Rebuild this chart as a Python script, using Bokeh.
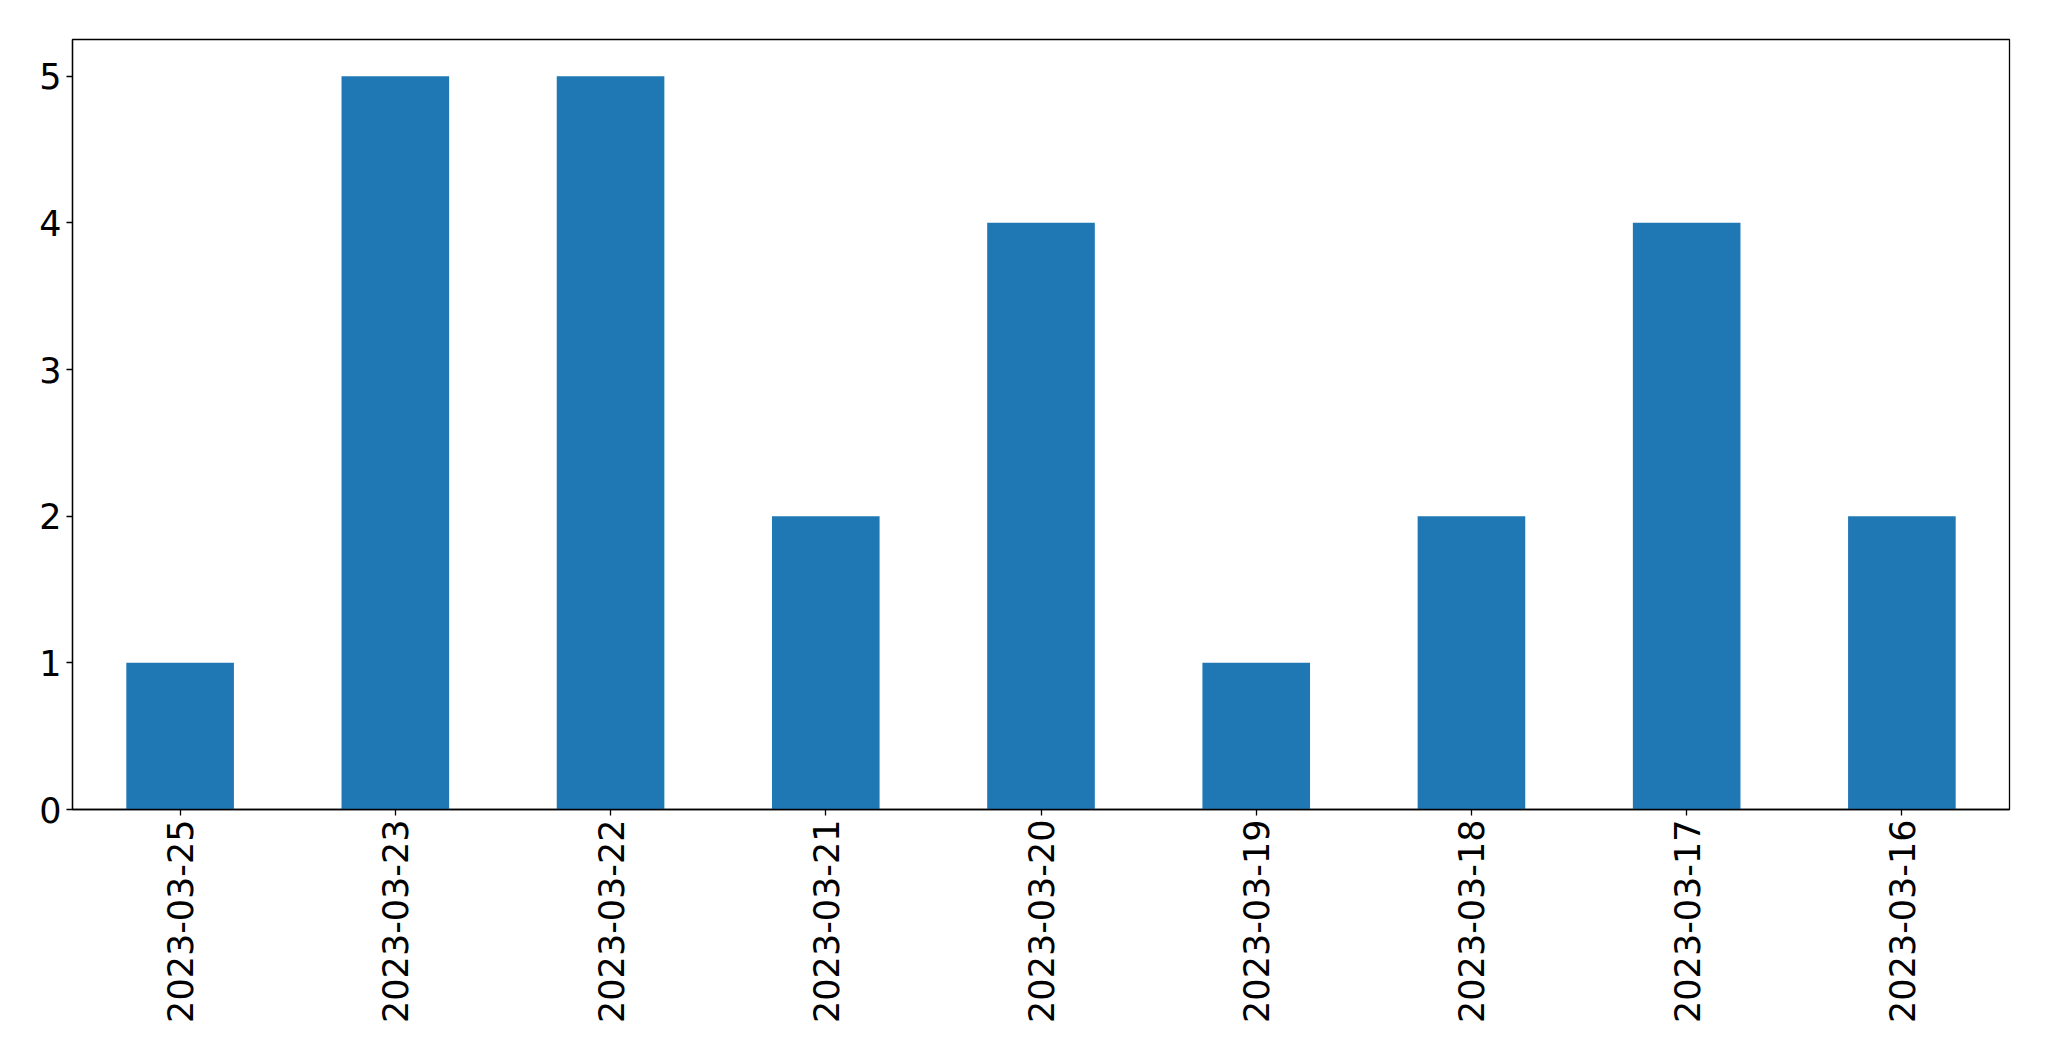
import math
from bokeh.plotting import figure
from bokeh.models import ColumnDataSource, FixedTicker, Range1d
from bokeh.embed import file_html
from bokeh.resources import INLINE

dates = ["2023-03-25", "2023-03-23", "2023-03-22", "2023-03-21", "2023-03-20",
         "2023-03-19", "2023-03-18", "2023-03-17", "2023-03-16"]
counts = [1, 5, 5, 2, 4, 1, 2, 4, 2]
y_ticks = [0, 1, 2, 3, 4, 5]

src = ColumnDataSource(dict(date=dates, count=counts))

p = figure(x_range=dates, y_range=Range1d(0, 5.25), width=2041, height=1053,
           output_backend="svg", toolbar_location=None,
           min_border_left=72, min_border_top=39, min_border_right=32, min_border_bottom=244)
p.x_range.range_padding = 0
p.vbar(x="date", top="count", width=0.5, source=src, color="#1f77b4", line_color=None)

p.xgrid.visible = False
p.ygrid.visible = False
p.outline_line_color = "black"
p.outline_line_width = 1.3
p.outline_line_alpha = 1

for ax in (p.xaxis, p.yaxis):
    ax.axis_line_color = "black"
    ax.axis_line_width = 1.3
    ax.major_tick_line_color = "black"
    ax.major_tick_line_width = 1.3
    ax.major_tick_out = 6
    ax.major_tick_in = 0
    ax.minor_tick_line_color = None
    ax.major_label_text_font = "DejaVu Sans"
    ax.major_label_text_font_size = "35px"
    ax.major_label_text_color = "black"

p.yaxis.ticker = FixedTicker(ticks=y_ticks)
p.yaxis.major_label_standoff = 5
p.xaxis.major_label_orientation = math.pi / 2
p.xaxis.major_label_standoff = 4

open("out.html", "w").write(file_html(p, INLINE))
